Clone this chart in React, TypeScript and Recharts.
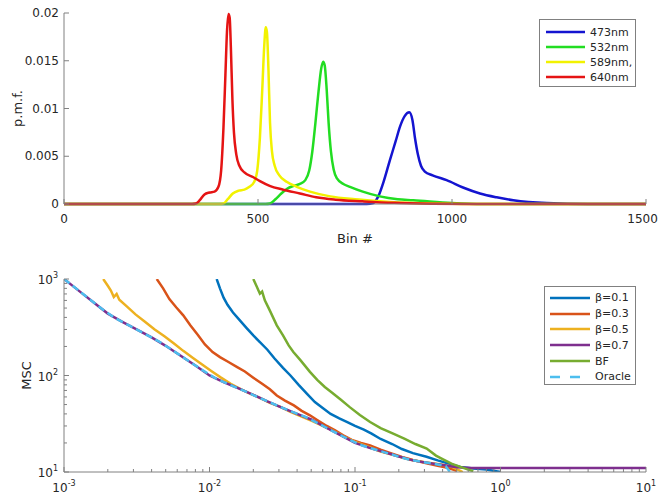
import { LineChart, Line, XAxis, YAxis } from 'recharts'

const FONT = '"DejaVu Sans", "Liberation Sans", Arial, sans-serif'
const AXIS_COLOR = '#808080'
const TEXT_COLOR = '#262626'
const PAGE_W = 659

// ---------- top panel: p.m.f. over bins ----------
const BIN_TICKS = [0, 500, 1000, 1500]
const PMF_TICKS = [0, 0.005, 0.01, 0.015, 0.02]

const WAVE_NAMES = ['473nm', '532nm', '589nm,', '640nm']
const WAVE_COLORS = ['#1414d0', '#22dd22', '#f2f200', '#e51414']

const bins473 = [0, 780, 797, 810, 825, 840, 855, 866, 878, 890, 898, 905, 912, 920, 930, 950, 986, 1030, 1072, 1115, 1158, 1244, 1350, 1500]
const pmf473 = [0, 0, 0.0001, 0.0008, 0.0025, 0.0046, 0.0066, 0.0081, 0.0092, 0.0096, 0.0088, 0.0068, 0.0052, 0.004, 0.0034, 0.003, 0.0025, 0.0017, 0.0011, 0.0007, 0.0004, 0.0001, 0, 0]

const bins532 = [0, 520, 531, 545, 560, 575, 592, 608, 622, 632, 640, 648, 656, 663, 668, 672, 677, 682, 688, 695, 703, 720, 737, 770, 814, 860, 900, 1000, 1080, 1500]
const pmf532 = [0, 0, 0.00005, 0.0005, 0.0011, 0.0016, 0.0019, 0.0021, 0.0025, 0.0035, 0.0055, 0.0085, 0.0118, 0.0142, 0.0149, 0.0145, 0.012, 0.0085, 0.0055, 0.0036, 0.0027, 0.0021, 0.0018, 0.0013, 0.0008, 0.0005, 0.0004, 0.0001, 0, 0]

const bins589 = [0, 400, 411, 422, 435, 450, 465, 478, 490, 498, 505, 511, 516, 520, 523, 527, 531, 536, 543, 555, 575, 600, 634, 686, 750, 815, 900, 1000, 1100, 1500]
const pmf589 = [0, 0, 0.00005, 0.0005, 0.0011, 0.0014, 0.0015, 0.0018, 0.0023, 0.0035, 0.007, 0.012, 0.0165, 0.0185, 0.018, 0.014, 0.0085, 0.0055, 0.004, 0.003, 0.0023, 0.0018, 0.0013, 0.0008, 0.0005, 0.0003, 0.0001, 0.00002, 0, 0]

const bins640 = [0, 330, 340, 350, 362, 375, 388, 398, 405, 411, 416, 420, 424, 427, 430, 434, 438, 444, 452, 465, 488, 505, 530, 565, 608, 650, 700, 770, 850, 950, 1050, 1500]
const pmf640 = [0, 0, 0.00005, 0.0004, 0.001, 0.0012, 0.0013, 0.0018, 0.0035, 0.008, 0.0135, 0.018, 0.0199, 0.0195, 0.0165, 0.011, 0.0075, 0.0052, 0.004, 0.0033, 0.0028, 0.0024, 0.0019, 0.0015, 0.0011, 0.0007, 0.00045, 0.00028, 0.00012, 0.00003, 0, 0]

// ---------- bottom panel: MSC (log-log) ----------
const MSC_NAMES = ['β=0.1', 'β=0.3', 'β=0.5', 'β=0.7', 'BF', 'Oracle']
const MSC_COLORS = ['#0072BD', '#D95319', '#EDB120', '#7E2F8E', '#77AC30', '#4DBEEE']

const xB01 = [0.0112, 0.0118, 0.0125, 0.0133, 0.0145, 0.016, 0.018, 0.02, 0.0222, 0.025, 0.028, 0.032, 0.036, 0.041, 0.047, 0.053, 0.06, 0.068, 0.078, 0.09, 0.1, 0.115, 0.13, 0.15, 0.18, 0.21, 0.25, 0.31, 0.37, 0.44, 0.53, 0.65, 0.8, 1.0]
const mscB01 = [1000, 800, 640, 540, 450, 380, 310, 260, 222, 185, 150, 120, 100, 80, 64, 53, 46, 40, 36, 32.5, 30, 27.5, 25, 22, 19.5, 17.3, 15.7, 14.4, 13.2, 12.2, 11.3, 10.9, 10.6, 10]

const xB03 = [0.00434, 0.0048, 0.0053, 0.0059, 0.0066, 0.0074, 0.0083, 0.0093, 0.0105, 0.0118, 0.0135, 0.0155, 0.0175, 0.02, 0.023, 0.026, 0.029, 0.033, 0.038, 0.043, 0.049, 0.056, 0.064, 0.073, 0.083, 0.095, 0.11, 0.127, 0.15, 0.18, 0.21, 0.25, 0.31, 0.37, 0.44, 0.5]
const mscB03 = [1000, 800, 620, 510, 420, 330, 265, 210, 175, 155, 138, 122, 110, 95, 82, 72, 62, 55, 49, 43, 38.7, 34, 30, 27, 24, 21.5, 20, 18.9, 17, 15.5, 14.3, 13.3, 12.3, 11.6, 11, 10.3]

const xB05 = [0.00186, 0.002, 0.0021, 0.0022, 0.0023, 0.0024, 0.0027, 0.0031, 0.0036, 0.0042, 0.0049, 0.0057, 0.0066, 0.0077, 0.0089, 0.0104, 0.012, 0.014, 0.0165, 0.019, 0.022, 0.026, 0.031, 0.036, 0.043, 0.05, 0.06, 0.07, 0.085, 0.1, 0.12, 0.15, 0.19, 0.24, 0.3, 0.38, 0.46, 0.55]
const mscB05 = [1000, 850, 760, 650, 700, 610, 520, 430, 360, 300, 255, 215, 180, 152, 130, 110, 95, 82, 72, 65, 59, 52, 47, 42, 37.5, 34, 30, 27, 23, 20.5, 18.5, 16.3, 14.8, 13.4, 12.6, 12, 11.4, 10]

const xB07 = [0.001, 0.0013, 0.0016, 0.002, 0.0025, 0.0032, 0.004, 0.005, 0.0063, 0.008, 0.01, 0.0126, 0.016, 0.02, 0.025, 0.032, 0.04, 0.05, 0.063, 0.08, 0.1, 0.126, 0.16, 0.2, 0.25, 0.32, 0.4, 0.5, 0.63, 10]
const mscB07 = [1000, 731, 571, 438, 361, 297, 248, 203, 161, 127, 100, 85, 73, 63, 54, 46, 40, 35, 29, 24, 20, 17.8, 16, 14.5, 13.2, 12.4, 11.8, 11.2, 11, 11]

const xBF = [0.02, 0.021, 0.0222, 0.023, 0.024, 0.026, 0.029, 0.032, 0.035, 0.0377, 0.042, 0.049, 0.055, 0.062, 0.07, 0.08, 0.092, 0.108, 0.127, 0.15, 0.183, 0.22, 0.26, 0.311, 0.36, 0.4, 0.46, 0.53, 0.6, 0.65]
const mscBF = [1000, 850, 705, 740, 600, 470, 331, 260, 205, 175, 145, 109, 90, 76, 66, 56, 47, 39, 33, 28.5, 25, 22, 19.5, 17.5, 14.8, 13.6, 12.2, 11.3, 10.6, 10.2]

const xOracle = [0.001, 0.0011, 0.0014, 0.0018, 0.0022, 0.0028, 0.0036, 0.0045, 0.0056, 0.0071, 0.009, 0.0112, 0.0141, 0.0178, 0.0224, 0.0282, 0.0355, 0.0447, 0.0562, 0.0708, 0.0891, 0.112, 0.141, 0.178, 0.224, 0.282, 0.355, 0.42, 0.45]
const mscOracle = [1000, 894, 670, 498, 401, 330, 270, 225, 182, 143, 113, 92, 79, 68, 58, 50, 43, 37.7, 31.8, 26.3, 22, 18.8, 16.9, 15.2, 13.7, 12.8, 12.1, 11.5, 10]

const LOG_X_TICKS: number[] = []
for (const d of [0.001, 0.01, 0.1, 1]) for (let m = 1; m < 10; m++) LOG_X_TICKS.push(+(d * m).toPrecision(3))
LOG_X_TICKS.push(10)
const LOG_Y_TICKS: number[] = []
for (const d of [10, 100]) for (let m = 1; m < 10; m++) LOG_Y_TICKS.push(d * m)
LOG_Y_TICKS.push(1000)

const zip = (xs: number[], ys: number[]) => xs.map((x, i) => ({ x, y: ys[i] }))

const topSeries = [
  zip(bins473, pmf473),
  zip(bins532, pmf532),
  zip(bins589, pmf589),
  zip(bins640, pmf640),
].map((points, i) => ({ name: WAVE_NAMES[i], color: WAVE_COLORS[i], points }))

const bottomSeries = [
  zip(xB01, mscB01),
  zip(xB03, mscB03),
  zip(xB05, mscB05),
  zip(xB07, mscB07),
  zip(xBF, mscBF),
  zip(xOracle, mscOracle),
].map((points, i) => ({ name: MSC_NAMES[i], color: MSC_COLORS[i], points, dashed: MSC_NAMES[i] === 'Oracle' }))

type Side = 'bottom' | 'top' | 'left' | 'right'

const isDecade = (v: number) => Math.abs(Math.log10(v) - Math.round(Math.log10(v))) < 1e-6

const textProps = { fill: TEXT_COLOR, fontSize: 12, fontFamily: FONT }

// keep a centred bottom label inside the page
const clampX = (x: number, halfW: number) => Math.min(x, PAGE_W - 1 - halfW)

// ticks drawn inward like matlab, labels only on bottom / left
function makeTick(side: Side, kind: 'lin' | 'log', labels: boolean) {
  return (props: any) => {
    const { x, y, payload } = props
    const v = payload.value as number
    const major = kind === 'lin' || isDecade(v)
    const len = major ? 5 : 3
    let x2 = x
    let y2 = y
    if (side === 'bottom') y2 = y - len
    if (side === 'top') y2 = y + len
    if (side === 'left') x2 = x + len
    if (side === 'right') x2 = x - len
    let label = null
    if (labels && major) {
      if (kind === 'lin') {
        const s = String(v)
        label = side === 'bottom'
          ? <text x={clampX(x, s.length * 3.85)} y={y + 19} textAnchor="middle" {...textProps}>{s}</text>
          : <text x={x - 5} y={y + 4} textAnchor="end" {...textProps}>{s}</text>
      } else {
        const e = Math.round(Math.log10(v))
        label = side === 'bottom'
          ? (
            <text x={clampX(x, 10)} y={y + 20} textAnchor="middle" {...textProps}>
              <tspan>10</tspan>
              <tspan dy={-6} fontSize={8}>{e}</tspan>
            </text>
          )
          : (
            <text x={x - 6} y={y + 5} textAnchor="end" {...textProps}>
              <tspan>10</tspan>
              <tspan dy={-6} fontSize={8}>{e}</tspan>
            </text>
          )
      }
    }
    return (
      <g>
        <line x1={x} y1={y} x2={x2} y2={y2} stroke={AXIS_COLOR} strokeWidth={1} />
        {label}
      </g>
    )
  }
}

function LegendBox({ left, top, width, height, rowTop, rowH, items, sampleLeft, sampleW, fontSize }: any) {
  return (
    <div
      style={{
        position: 'absolute', left, top, width, height, boxSizing: 'border-box',
        border: `1px solid ${AXIS_COLOR}`, background: '#fff', fontFamily: FONT,
      }}
    >
      {items.map((s: any, i: number) => (
        <div
          key={s.name}
          style={{ position: 'absolute', left: sampleLeft, top: rowTop + i * rowH, height: rowH, display: 'flex', alignItems: 'center' }}
        >
          <svg width={sampleW} height={6}>
            <line x1={0} y1={3} x2={sampleW} y2={3} stroke={s.color} strokeWidth={2.5} strokeDasharray={s.dashed ? '10 10' : undefined} />
          </svg>
          <span style={{ marginLeft: 5, fontSize, color: TEXT_COLOR, whiteSpace: 'nowrap' }}>{s.name}</span>
        </div>
      ))}
    </div>
  )
}

const axisLine = { stroke: AXIS_COLOR, strokeWidth: 1 }

function TopPanel() {
  return (
    <LineChart width={659} height={250} margin={{ top: 13, right: 13, bottom: 0, left: 0 }} style={{ fontFamily: FONT }}>
      <XAxis
        xAxisId="b" type="number" dataKey="x" domain={[0, 1500]} ticks={BIN_TICKS} interval={0}
        height={46} tickSize={0} tickMargin={0} tickLine={false} axisLine={axisLine}
        tick={makeTick('bottom', 'lin', true)}
        label={{ value: 'Bin #', position: 'insideBottom', offset: 7, fill: TEXT_COLOR, fontSize: 13 }}
      />
      <XAxis
        xAxisId="t" orientation="top" type="number" dataKey="x" domain={[0, 1500]} ticks={BIN_TICKS} interval={0}
        height={0} tickSize={0} tickMargin={0} tickLine={false} axisLine={axisLine}
        tick={makeTick('top', 'lin', false)}
      />
      <YAxis
        yAxisId="l" type="number" domain={[0, 0.02]} ticks={PMF_TICKS} interval={0}
        width={64} tickSize={0} tickMargin={0} tickLine={false} axisLine={axisLine}
        tick={makeTick('left', 'lin', true)}
        label={{ value: 'p.m.f.', angle: -90, position: 'insideLeft', offset: 17, fill: TEXT_COLOR, fontSize: 13, style: { textAnchor: 'middle' } }}
      />
      <YAxis
        yAxisId="r" orientation="right" type="number" domain={[0, 0.02]} ticks={PMF_TICKS} interval={0}
        width={0} tickSize={0} tickMargin={0} tickLine={false} axisLine={axisLine}
        tick={makeTick('right', 'lin', false)}
      />
      {topSeries.map((s) => (
        <Line
          key={s.name} xAxisId="b" yAxisId="l" data={s.points} dataKey="y" name={s.name}
          type="monotone" stroke={s.color} strokeWidth={2.5} dot={false} activeDot={false}
          isAnimationActive={false}
        />
      ))}
    </LineChart>
  )
}

function BottomPanel() {
  return (
    <LineChart width={659} height={250} margin={{ top: 29, right: 13, bottom: 0, left: 0 }} style={{ fontFamily: FONT }}>
      <XAxis
        xAxisId="b" type="number" dataKey="x" scale="log" domain={[0.001, 10]} ticks={LOG_X_TICKS} interval={0}
        allowDataOverflow height={28} tickSize={0} tickMargin={0} tickLine={false} axisLine={axisLine}
        tick={makeTick('bottom', 'log', true)}
      />
      <XAxis
        xAxisId="t" orientation="top" type="number" dataKey="x" scale="log" domain={[0.001, 10]} ticks={LOG_X_TICKS} interval={0}
        allowDataOverflow height={0} tickSize={0} tickMargin={0} tickLine={false} axisLine={axisLine}
        tick={makeTick('top', 'log', false)}
      />
      <YAxis
        yAxisId="l" type="number" scale="log" domain={[10, 1000]} ticks={LOG_Y_TICKS} interval={0}
        allowDataOverflow width={64} tickSize={0} tickMargin={0} tickLine={false} axisLine={axisLine}
        tick={makeTick('left', 'log', true)}
        label={{ value: 'MSC', angle: -90, position: 'insideLeft', offset: 26, fill: TEXT_COLOR, fontSize: 13, style: { textAnchor: 'middle' } }}
      />
      <YAxis
        yAxisId="r" orientation="right" type="number" scale="log" domain={[10, 1000]} ticks={LOG_Y_TICKS} interval={0}
        allowDataOverflow width={0} tickSize={0} tickMargin={0} tickLine={false} axisLine={axisLine}
        tick={makeTick('right', 'log', false)}
      />
      {bottomSeries.map((s) => (
        <Line
          key={s.name} xAxisId="b" yAxisId="l" data={s.points} dataKey="y" name={s.name}
          type="linear" stroke={s.color} strokeWidth={2.5} dot={false} activeDot={false}
          strokeDasharray={s.dashed ? '7 4' : undefined}
          isAnimationActive={false}
        />
      ))}
    </LineChart>
  )
}

export default function App() {
  return (
    <div style={{ position: 'absolute', left: 0, top: 0, width: 659, height: 500, background: '#fff' }}>
      <TopPanel />
      <BottomPanel />
      <LegendBox
        left={539} top={19} width={97} height={68} rowTop={4.5} rowH={15}
        items={topSeries} sampleLeft={6} sampleW={39} fontSize={11}
      />
      <LegendBox
        left={544} top={286} width={92} height={99} rowTop={3} rowH={15.8}
        items={bottomSeries} sampleLeft={5} sampleW={40} fontSize={11}
      />
    </div>
  )
}
